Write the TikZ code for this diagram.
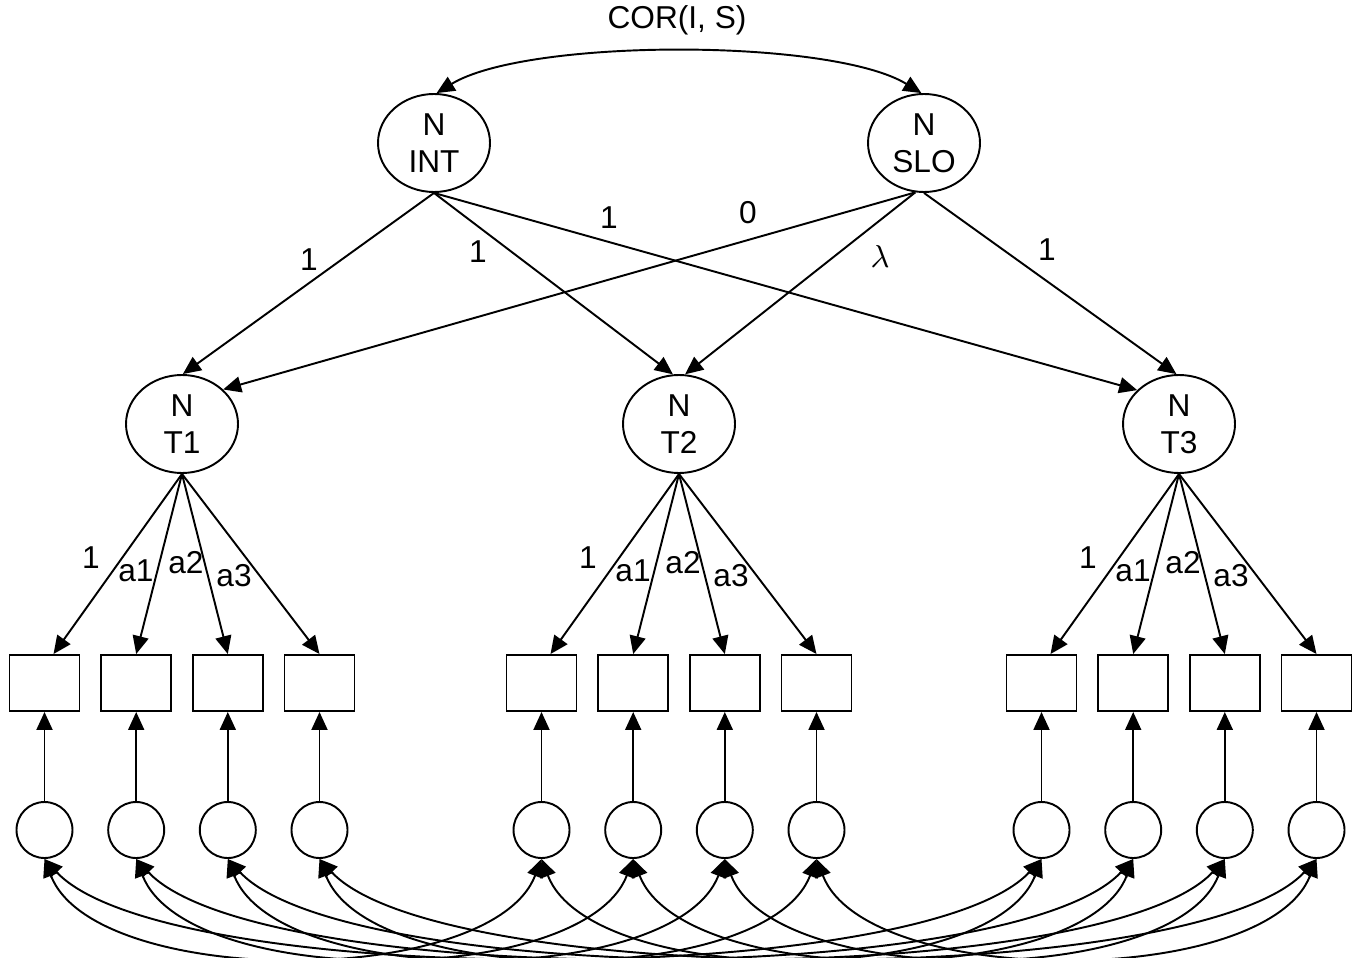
\documentclass[tikz,border=0pt]{standalone}
\usepackage{fontspec}
\setmainfont{Liberation Sans}
\usepackage{tikz}
\usetikzlibrary{shapes}
\usetikzlibrary{arrows.meta}
\usetikzlibrary{positioning}
\usetikzlibrary{calc}

\tikzset{
	latent/.style={draw, ellipse, minimum width=11.2mm, minimum height=9.8mm, inner sep=0pt, align=center},
	indicator/.style={draw, rectangle, minimum width=7mm, minimum height=5.6mm, inner sep=0pt},
	resid/.style={draw, circle, minimum size=5.6mm, inner sep=0pt},
	regr/.style={-{Triangle[length=1.8mm, width=1.6mm]}},
	covar/.style={{Triangle[length=1.8mm, width=1.6mm]}-{Triangle[length=1.8mm, width=1.6mm]}}
}

\begin{document}
\begin{tikzpicture}[x=0.1mm, y=-0.1mm, line width=0.55pt, font=\fontsize{9}{10.5}\selectfont]
	\useasboundingbox (0,0) rectangle (1359,958);

	% growth factors
	\node[latent] (INT) at (434,143) {N\\INT};
	\node[latent] (SLO) at (924,143) {N\\SLO};
	\node[] (cor) at (677,20) {COR(I, S)};
	\draw[covar] (INT.87) .. controls +(90,-55) and +(-90,-55) .. (SLO.93);

	% occasions, indicators and residuals
	\foreach \t/\cx in {1/182, 2/679, 3/1179} {
		\node[latent] (T\t) at (\cx,424) {N\\T\t};
		\foreach \j/\dx/\lab/\lx/\ly in {1/-137.5/1/-91/558, 2/-45.8/a1/-46/571, 3/45.8/a2/4/563, 4/137.5/a3/52/576} {
			\node[indicator] (x\t\j) at ({\cx+\dx},683) {};
			\node[resid] (e\t\j) at ({\cx+\dx},830) {};
			\node[] (l\t\j) at ({\cx+\lx},\ly) {\lab};
			\draw[regr] (e\t\j.north) -- (x\t\j.south);
		}
		\draw[regr] (T\t.south) -- ([xshift=0.9mm]x\t1.north);
		\draw[regr] (T\t.south) -- (x\t2.north);
		\draw[regr] (T\t.south) -- (x\t3.north);
		\draw[regr] (T\t.south) -- (x\t4.north);
	}

	% loadings of the growth factors
	\draw[regr] (INT.south) -- (T1.89);
	\draw[regr] (INT.south) -- (T2.97);
	\draw[regr] (INT.south) -- (T3.141);
	\draw[regr] (SLO.260) -- (T1.40);
	\draw[regr] (SLO.260) -- (T2.83);
	\draw[regr] (SLO.south) -- (T3.93);
	\node[] (li1) at (309,260) {1};
	\node[] (li2) at (478,252) {1};
	\node[] (li3) at (609,218) {1};
	\node[] (ls1) at (748,213) {0};
	\node[] (ls2) at (880,257) {$\lambda$};
	\node[] (ls3) at (1047,250) {1};

	% correlated residuals over time
	\foreach \j in {1,...,4} {
		\draw[covar] (e1\j.south) .. controls +(50,130) and +(-50,130) .. (e2\j.south);
		\draw[covar] (e2\j.south) .. controls +(50,130) and +(-50,130) .. (e3\j.south);
		\draw[covar] (e1\j.south) .. controls +(120,130) and +(-120,130) .. (e3\j.south);
	}
\end{tikzpicture}
\end{document}
